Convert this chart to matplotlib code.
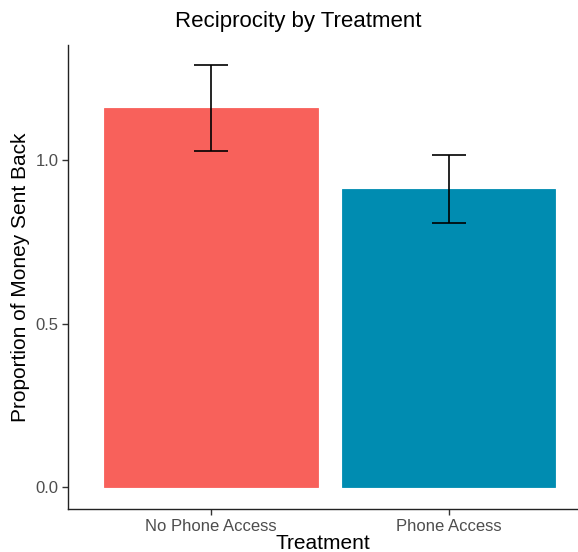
import matplotlib.pyplot as plt

plt.rcParams["font.family"] = ["Liberation Sans", "DejaVu Sans"]

treatments = ["No Phone Access", "Phone Access"]
means = [1.159, 0.911]
err_low = [1.028, 0.808]
err_high = [1.290, 1.015]
colors = ["#F8615B", "#008CB1"]

x = [1, 2]
yerr = [[m - lo for m, lo in zip(means, err_low)],
        [hi - m for m, hi in zip(means, err_high)]]

fig = plt.figure(figsize=(5.78, 5.52), dpi=100)
ax = fig.add_axes([68 / 578, 1 - 509 / 552, 510 / 578, 464 / 552])

ax.bar(x, means, width=0.9, color=colors, edgecolor=colors, linewidth=0.6, zorder=2)
ax.errorbar(x, means, yerr=yerr, fmt="none", ecolor="black", elinewidth=1.2,
            capsize=12, capthick=1.2, zorder=3)

ax.set_xlim(0.398, 2.545)
ax.set_ylim(-0.0673, 1.352)
ax.set_xticks(x)
ax.set_xticklabels(treatments)
ax.set_yticks([0, 0.5, 1.0])
ax.set_yticklabels(["0.0", "0.5", "1.0"])

ax.spines["top"].set_visible(False)
ax.spines["right"].set_visible(False)
for s in ["left", "bottom"]:
    ax.spines[s].set_linewidth(1.0)
    ax.spines[s].set_color("#222222")
ax.tick_params(axis="both", length=4, width=1.0, color="#333333",
               labelsize=12, labelcolor="#4D4D4D", pad=3)

ax.set_xlabel("Treatment", fontsize=15, labelpad=0)
ax.set_ylabel("Proportion of Money Sent Back", fontsize=15, labelpad=4)
fig.text(0.5 * (173 + 424) / 578, 1 - 22 / 552, "Reciprocity by Treatment",
         fontsize=16, ha="center", va="center")

fig.savefig("out.png", dpi=100)
